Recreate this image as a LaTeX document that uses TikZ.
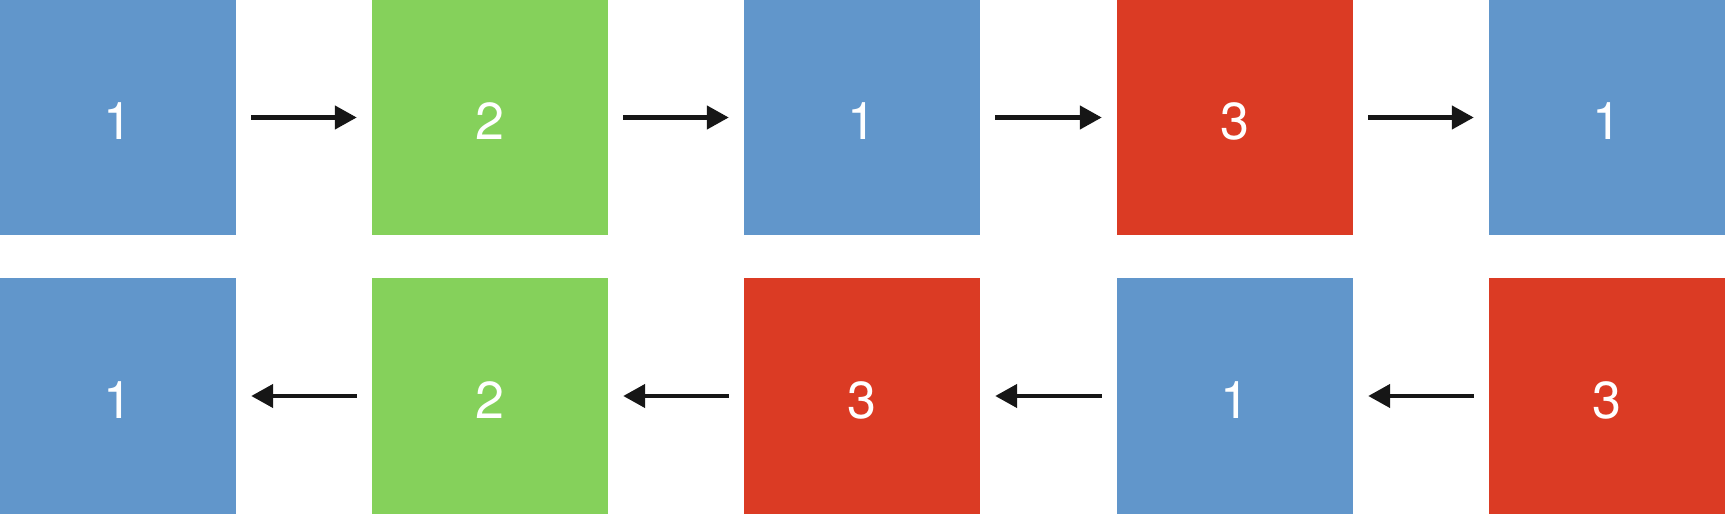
\documentclass[tikz,border=0pt]{standalone}
\usepackage{fontspec}
\setmainfont{TeX Gyre Heros}
\usetikzlibrary{arrows.meta}
\definecolor{cblue}{RGB}{97,150,203}
\definecolor{cgreen}{RGB}{133,209,91}
\definecolor{cred}{RGB}{219,59,36}
\definecolor{carrow}{RGB}{22,22,22}
\begin{document}
\begin{tikzpicture}[x=1pt,y=1pt,
  lbl/.style={text=white,font=\fontsize{52}{58}\selectfont,inner sep=0pt,yshift=-4pt},
  sq/.style={minimum width=236pt,minimum height=236pt,inner sep=0pt,draw=none,label={[lbl]center:#1}},
  bluesq/.style={sq=#1,fill=cblue},
  greensq/.style={sq=#1,fill=cgreen},
  redsq/.style={sq=#1,fill=cred},
  conn/.style={draw=carrow,line width=4.5pt,-{Triangle[length=22pt,width=23pt]},shorten <=15pt,shorten >=15pt}]
\useasboundingbox (0,0) rectangle (1725,514);
% top row
\node[bluesq=1]  (t1) at (118,396.5) {};
\node[greensq=2] (t2) at (490,396.5) {};
\node[bluesq=1]  (t3) at (862,396.5) {};
\node[redsq=3]   (t4) at (1235,396.5) {};
\node[bluesq=1]  (t5) at (1607,396.5) {};
% bottom row
\node[bluesq=1]  (b1) at (118,118) {};
\node[greensq=2] (b2) at (490,118) {};
\node[redsq=3]   (b3) at (862,118) {};
\node[bluesq=1]  (b4) at (1235,118) {};
\node[redsq=3]   (b5) at (1607,118) {};
\draw[conn] (t1) -- (t2);
\draw[conn] (t2) -- (t3);
\draw[conn] (t3) -- (t4);
\draw[conn] (t4) -- (t5);
\draw[conn] (b5) -- (b4);
\draw[conn] (b4) -- (b3);
\draw[conn] (b3) -- (b2);
\draw[conn] (b2) -- (b1);
\end{tikzpicture}
\end{document}
